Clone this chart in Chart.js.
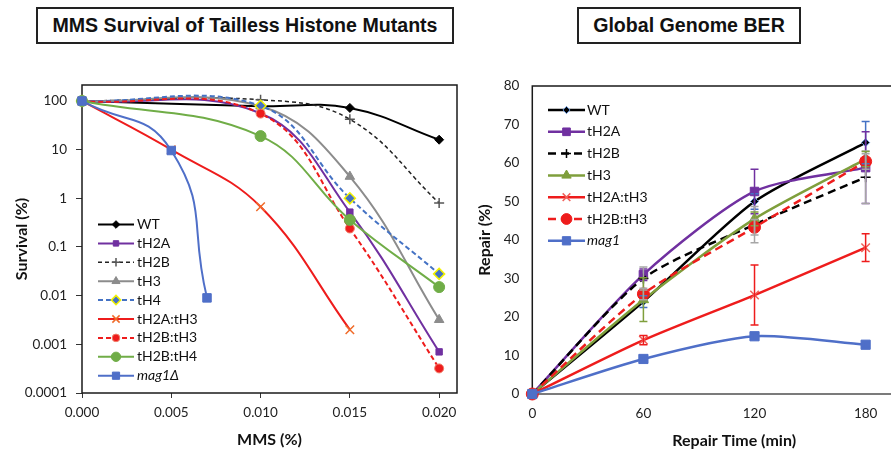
<!DOCTYPE html>
<html>
<head>
<meta charset="utf-8">
<script src="https://cdn.jsdelivr.net/npm/chart.js@4.4.1/dist/chart.umd.min.js"></script>
<style>
  body { margin: 0; background: #fff; width: 891px; height: 454px; overflow: hidden; position: relative; }
  .title-box {
    position: absolute; top: 7px; height: 37px; box-sizing: border-box;
    border: 2px solid #222; background: #fff;
    font-family: "Liberation Sans", Arial, sans-serif; font-weight: bold; font-size: 19.6px; color: #111;
    display: flex; align-items: center; justify-content: center;
  }
  #survivalTitle { left: 36px; width: 418px; }
  #berTitle { left: 577px; width: 224px; }
  #survivalChart { position: absolute; left: 0; top: 0; }
  #berChart { position: absolute; left: 460px; top: 0; }
</style>
</head>
<body>
<div class="title-box" id="survivalTitle">MMS Survival of Tailless Histone Mutants</div>
<div class="title-box" id="berTitle">Global Genome BER</div>
<canvas id="survivalChart" width="470" height="454"></canvas>
<canvas id="berChart" width="476" height="454"></canvas>
<script>
// ---- MMS survival (left) ----
const mmsDoses = [0, 0.005, 0.010, 0.015, 0.020];
const mag1Doses = [0, 0.005, 0.007];
const survWT = [100, null, 78, 72, 16];
const survH2A = [100, null, 56, 0.52, 0.0007];
const survH2B = [100, null, 106, 42, 0.8];
const survH3 = [100, null, 78, 2.8, 0.0032];
const survH4 = [100, null, 80, 1.0, 0.028];
const survH2AH3 = [100, 10, 0.67, 0.002, null];
const survH2BH3 = [100, null, 55, 0.24, 0.00032];
const survH2BH4 = [100, null, 19, 0.36, 0.015];
const survMag1 = [100, 9.6, 0.009];

const survTickValues = [0.0001, 0.001, 0.01, 0.1, 1, 10, 100];
const survTickLabels = ['0.0001', '0.001', '0.01', '0.1', '1', '10', '100'];
const mmsTickValues = [0, 0.005, 0.010, 0.015, 0.020];
const mmsTickLabels = ['0.000', '0.005', '0.010', '0.015', '0.020'];

// ---- Global genome BER (right) ----
const repairTimes = [0, 60, 120, 180];
const repWT = [0, 24, 50, 65.3];
const repWTErr = [0, 1.5, 2, 5.5];
const repH2A = [0, 31, 52.6, 58.8];
const repH2AErr = [0, 1.5, 5.8, 9.3];
const repH2B = [0, 30, 44, 56.3];
const repH2BErr = [0, 3, 4.7, 6.8];
const repH3 = [0, 24.5, 45.5, 61];
const repH3Err = [0, 5.7, 1.8, 2];
const repH2AH3 = [0, 14, 25.7, 38];
const repH2AH3Err = [0, 1.2, 7.8, 3.6];
const repH2BH3 = [0, 26, 43.3, 60.4];
const repH2BH3Err = [0, 1.5, 2, 2];
const repMag1 = [0, 9.1, 15, 12.8];
const repMag1Err = [0, 0.6, 0.6, 0.6];

const repairTickValues = [0, 10, 20, 30, 40, 50, 60, 70, 80];
const timeTickValues = [0, 60, 120, 180];

function pts(xs, ys) {
  return xs.map((x, i) => ({ x: x, y: ys[i] })).filter(p => p.y !== null);
}

Chart.defaults.font.family = 'Lato, "Open Sans", sans-serif';
Chart.defaults.color = '#222';

const plotBox = {
  id: 'plotBox',
  beforeDatasetsDraw(chart, args, o) {
    const { ctx, chartArea: a } = chart;
    ctx.save();
    ctx.lineWidth = o.width;
    ctx.strokeStyle = o.color;
    ctx.strokeRect(a.left, a.top, a.right - a.left, a.bottom - a.top);
    if (o.bottomColor) {
      ctx.strokeStyle = o.bottomColor;
      ctx.beginPath();
      ctx.moveTo(a.left, a.bottom);
      ctx.lineTo(a.right, a.bottom);
      ctx.stroke();
    }
    ctx.restore();
  }
};

const errorBars = {
  id: 'errorBars',
  afterDatasetsDraw(chart) {
    const { ctx, scales: { x, y } } = chart;
    chart.data.datasets.forEach(ds => {
      if (!ds.errors) return;
      ctx.save();
      ctx.strokeStyle = ds.errorColor || ds.borderColor;
      ctx.lineWidth = 1.5;
      ds.data.forEach((p, i) => {
        const e = ds.errors[i];
        if (!e) return;
        const px = x.getPixelForValue(p.x);
        const top = y.getPixelForValue(p.y + e);
        const bot = y.getPixelForValue(p.y - e);
        ctx.beginPath();
        ctx.moveTo(px, top); ctx.lineTo(px, bot);
        ctx.moveTo(px - 4, top); ctx.lineTo(px + 4, top);
        ctx.moveTo(px - 4, bot); ctx.lineTo(px + 4, bot);
        ctx.stroke();
      });
      ctx.restore();
    });
  }
};

const insideLegend = {
  id: 'insideLegend',
  afterDraw(chart, args, o) {
    const ctx = chart.ctx;
    chart.data.datasets.forEach((ds, i) => {
      const y = o.y + i * o.spacing;
      ctx.save();
      ctx.strokeStyle = ds.borderColor;
      ctx.lineWidth = ds.borderWidth;
      ctx.setLineDash(ds.borderDash || []);
      ctx.beginPath();
      ctx.moveTo(o.x, y);
      ctx.lineTo(o.x + o.lineLen, y);
      ctx.stroke();
      ctx.setLineDash([]);
      ctx.fillStyle = ds.pointBackgroundColor;
      ctx.strokeStyle = ds.pointBorderColor;
      ctx.lineWidth = ds.pointBorderWidth;
      Chart.helpers.drawPoint(ctx, {
        pointStyle: ds.pointStyle, radius: ds.pointRadius * o.markerScale,
        rotation: 0, borderWidth: ds.pointBorderWidth
      }, o.x + o.lineLen / 2, y);
      ctx.fillStyle = '#111';
      ctx.font = (ds.italicLabel ? 'italic ' : '') + o.font;
      ctx.textBaseline = 'middle';
      ctx.fillText(ds.label, o.x + o.lineLen + o.gap, y);
      ctx.restore();
    });
  }
};

function series(label, data, color, extra) {
  return Object.assign({
    label: label, data: data,
    borderColor: color, backgroundColor: color,
    pointBackgroundColor: color, pointBorderColor: color,
    pointBorderWidth: 1, pointRadius: 4, pointStyle: 'circle',
    borderWidth: 2, clip: false
  }, extra);
}

// Left chart
const survivalSets = [
  series('WT', pts(mmsDoses, survWT), '#000000', { pointStyle: 'rectRot', pointRadius: 4.5 }),
  series('tH2A', pts(mmsDoses, survH2A), '#7030A0', { pointStyle: 'rect', pointRadius: 4.5 }),
  series('tH2B', pts(mmsDoses, survH2B), '#222222', { borderDash: [4, 3], borderWidth: 1.5, pointStyle: 'cross', pointRadius: 5, pointBorderWidth: 1.5, pointBorderColor: '#555' }),
  series('tH3', pts(mmsDoses, survH3), '#8C8C8C', { pointStyle: 'triangle', pointRadius: 5.5 }),
  series('tH4', pts(mmsDoses, survH4), '#4472C4', { borderDash: [5, 3], pointStyle: 'rectRot', pointRadius: 5.5, pointBorderColor: '#F2F200', pointBorderWidth: 1.5 }),
  series('tH2A:tH3', pts(mmsDoses, survH2AH3), '#EE1C1C', { pointStyle: 'crossRot', pointRadius: 6, pointBorderColor: '#F06A28', pointBorderWidth: 1.5 }),
  series('tH2B:tH3', pts(mmsDoses, survH2BH3), '#EE1C1C', { borderDash: [5, 3], pointRadius: 4.5, pointBorderColor: '#F07F6A' }),
  series('tH2B:tH4', pts(mmsDoses, survH2BH4), '#70AD47', { pointRadius: 5.5 }),
  series('mag1Δ', pts(mag1Doses, survMag1), '#4F6FC8', { pointStyle: 'rect', pointRadius: 6, italicLabel: true })
];
survivalSets.forEach((ds, i) => { ds.order = survivalSets.length - i; ds.tension = 0.4; });
survivalSets[8].tension = 0.5;

new Chart(document.getElementById('survivalChart'), {
  type: 'line',
  data: { datasets: survivalSets },
  plugins: [plotBox, insideLegend],
  options: {
    responsive: false,
    animation: false,
    layout: { autoPadding: false, padding: { top: 85, right: 13, left: 0, bottom: 0 } },
    plugins: {
      legend: { display: false },
      tooltip: { enabled: false },
      plotBox: { color: '#1a1a1a', width: 1.5 },
      insideLegend: { x: 98, y: 224.5, spacing: 18.9, lineLen: 36, gap: 3, markerScale: 0.85, font: '14px Lato, sans-serif' }
    },
    scales: {
      x: {
        type: 'linear', min: 0, max: 0.021,
        afterBuildTicks: s => { s.ticks = mmsTickValues.map(v => ({ value: v })); },
        afterFit: s => { s.height = 61; },
        ticks: { callback: (v, i) => mmsTickLabels[i], font: { size: 13.5 }, color: '#222', padding: 7, maxRotation: 0 },
        grid: { drawOnChartArea: false, drawTicks: true, tickLength: 5, color: '#333' },
        border: { display: false },
        title: { display: true, text: 'MMS (%)', font: { size: 16, weight: 'bold' }, color: '#111', padding: { bottom: 5 } }
      },
      y: {
        type: 'logarithmic', min: 0.0001, max: 213,
        afterBuildTicks: s => { s.ticks = survTickValues.map(v => ({ value: v })); },
        afterFit: s => { s.width = 82; },
        ticks: { callback: (v, i) => survTickLabels[i], font: { size: 13.5 }, color: '#222', padding: 9 },
        grid: { drawOnChartArea: false, drawTicks: true, tickLength: 6, color: '#333' },
        border: { display: false },
        title: { display: true, text: 'Survival (%)', font: { size: 16, weight: 'bold' }, color: '#111', padding: { top: 12 } }
      }
    }
  }
});

// Right chart
const berSets = [
  series('WT', pts(repairTimes, repWT), '#000000', { pointStyle: 'rectRot', pointRadius: 4, pointBorderColor: '#5B8BD0', errors: repWTErr, errorColor: '#4472C4' }),
  series('tH2A', pts(repairTimes, repH2A), '#7030A0', { pointStyle: 'rect', pointRadius: 6, errors: repH2AErr }),
  series('tH2B', pts(repairTimes, repH2B), '#000000', { borderDash: [8, 5], pointStyle: 'cross', pointRadius: 5, pointBorderWidth: 1.5, errors: repH2BErr, errorColor: '#A6A6A6' }),
  series('tH3', pts(repairTimes, repH3), '#7F9F3C', { pointStyle: 'triangle', pointRadius: 6, errors: repH3Err }),
  series('tH2A:tH3', pts(repairTimes, repH2AH3), '#EE1C1C', { pointStyle: 'crossRot', pointRadius: 6, pointBorderWidth: 1.5, pointBorderColor: '#F0605A', errors: repH2AH3Err }),
  series('tH2B:tH3', pts(repairTimes, repH2BH3), '#EE1C1C', { borderDash: [8, 5], pointRadius: 6, errors: repH2BH3Err, errorColor: '#A6A6A6' }),
  series('mag1', pts(repairTimes, repMag1), '#4F6FC8', { pointStyle: 'rect', pointRadius: 6.5, errors: repMag1Err, italicLabel: true })
];
berSets.forEach((ds, i) => { ds.order = berSets.length - i; ds.tension = 0.25; ds.borderWidth = 2.5; });

new Chart(document.getElementById('berChart'), {
  type: 'line',
  data: { datasets: berSets },
  plugins: [plotBox, errorBars, insideLegend],
  options: {
    responsive: false,
    animation: false,
    layout: { autoPadding: false, padding: { top: 86, right: 0, left: 0, bottom: 0 } },
    plugins: {
      legend: { display: false },
      tooltip: { enabled: false },
      plotBox: { color: '#1a1a1a', width: 1.5, bottomColor: '#8a8a8a' },
      insideLegend: { x: 88, y: 110, spacing: 21.8, lineLen: 37, gap: 2, markerScale: 0.9, font: '14px Lato, sans-serif' }
    },
    scales: {
      x: {
        type: 'linear', min: 0, max: 218,
        afterBuildTicks: s => { s.ticks = timeTickValues.map(v => ({ value: v })); },
        afterFit: s => { s.height = 60; },
        ticks: { font: { size: 13.5 }, color: '#222', padding: 12, maxRotation: 0 },
        grid: { drawOnChartArea: false, drawTicks: false },
        border: { display: false },
        title: { display: true, text: 'Repair Time (min)', font: { size: 16, weight: 'bold' }, color: '#111', padding: { bottom: 4 } }
      },
      y: {
        type: 'linear', min: 0, max: 80,
        afterBuildTicks: s => { s.ticks = repairTickValues.map(v => ({ value: v })); },
        afterFit: s => { s.width = 72.3; },
        ticks: { font: { size: 13.5 }, color: '#222', padding: 13 },
        grid: { drawOnChartArea: false, drawTicks: false },
        border: { display: false },
        title: { display: true, text: 'Repair (%)', font: { size: 16, weight: 'bold' }, color: '#111', padding: { top: 15 } }
      }
    }
  }
});
</script>
</body>
</html>
